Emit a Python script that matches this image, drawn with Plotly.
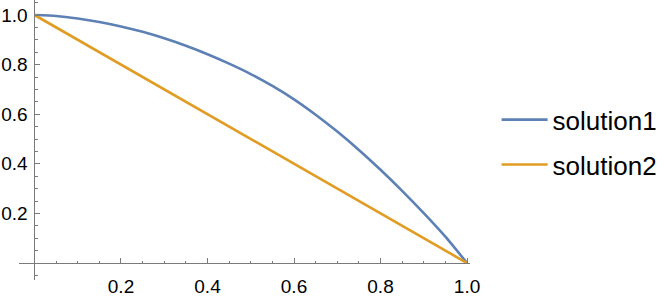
import plotly.graph_objects as go

# Data
sol1_x = [0.0, 0.05, 0.1, 0.15, 0.2, 0.25, 0.3, 0.35, 0.4, 0.45, 0.5,
          0.55, 0.6, 0.65, 0.7, 0.75, 0.8, 0.85, 0.9, 0.95, 1.0]
sol1_y = [1.0, 0.996, 0.986, 0.972, 0.954, 0.932, 0.906, 0.876, 0.842, 0.804, 0.762,
          0.714, 0.660, 0.598, 0.530, 0.456, 0.376, 0.291, 0.201, 0.106, 0.0]
sol2_x = [0.0, 1.0]
sol2_y = [1.0, 0.0]

tick_vals = [0.2, 0.4, 0.6, 0.8, 1.0]
tick_text = ["0.2", "0.4", "0.6", "0.8", "1.0"]

BLUE = "#5E81B5"
ORANGE = "#E19C24"
AXIS = "#7a7a7a"
FONT = "Liberation Sans, Arial, sans-serif"

fig = go.Figure()
fig.add_trace(go.Scatter(x=sol1_x, y=sol1_y, mode="lines", name="solution1", legendgroup="a",
                         line=dict(color=BLUE, width=2.6, shape="spline", smoothing=0.5)))
fig.add_trace(go.Scatter(x=sol2_x, y=sol2_y, mode="lines", name="solution2", legendgroup="b",
                         line=dict(color=ORANGE, width=2.6)))

xr = [-0.0358, 1.0069]
yr = [-0.0685, 1.0605]
xpos = (0 - yr[0]) / (yr[1] - yr[0])
ypos = (0 - xr[0]) / (xr[1] - xr[0])

common = dict(showgrid=False, zeroline=False, showline=True, linecolor=AXIS, linewidth=1,
              ticks="inside", ticklen=5, tickcolor=AXIS, tickwidth=1,
              tickvals=tick_vals, ticktext=tick_text,
              tickfont=dict(family=FONT, size=19, color="black"),
              minor=dict(ticks="inside", ticklen=2.5, tickcolor=AXIS, tick0=0, dtick=0.05),
              automargin=False, fixedrange=True)

fig.update_layout(
    width=669, height=297,
    margin=dict(l=19, r=199, t=0, b=17),
    paper_bgcolor="white", plot_bgcolor="white",
    xaxis=dict(range=xr, anchor="free", position=xpos, ticklabelstandoff=6, **common),
    yaxis=dict(range=yr, anchor="free", position=ypos, ticklabelstandoff=3, **common),
    legend=dict(x=1.059, xanchor="left", y=0.492, yanchor="middle",
                font=dict(family=FONT, size=26, color="black"),
                itemwidth=46, tracegroupgap=8, bgcolor="rgba(0,0,0,0)"),
    showlegend=True,
)

fig.write_html("out.html")
